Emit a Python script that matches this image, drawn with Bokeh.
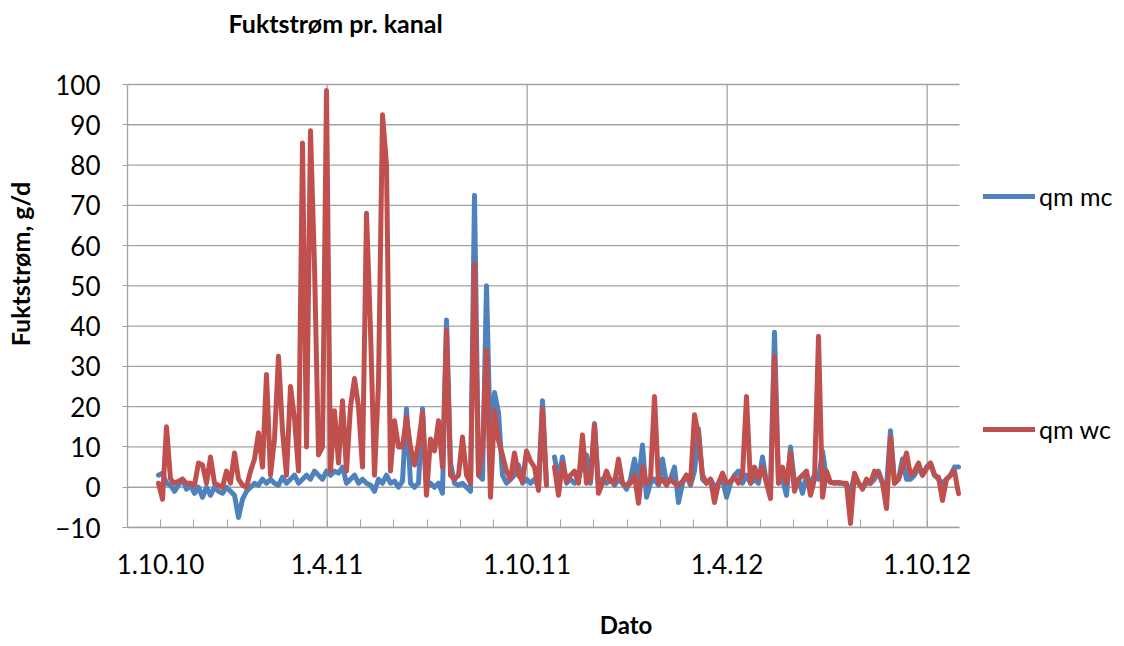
from bokeh.plotting import figure
from bokeh.models import FixedTicker, Legend, LegendItem, Range1d, Label
from bokeh.embed import file_html
from bokeh.resources import INLINE

nan = float("nan")

# Moisture flow per channel, one sample every ~2 days
qm_mc = [
    3, 3.5, 1, 0.5, -1, 0.5, 2, -0.5, 0.5, -1.5,
    0, -2.5, 0, -2, 0, -1, -1.5, 0, -1, -2,
    -7.5, -3, -1, 0, 1, 0.5, 2, 1, 2, 1,
    0.5, 2.5, 1, 2, 3, 1, 2, 3, 2, 4,
    3, 2, 4, 3, 4, 3.5, 5, 1, 2, 3,
    1, 2, 1, 0.5, -1, 2, 1, 3, 1, 1.5,
    0, 1.5, 19.5, 1, 0, 1, 19.5, 0, 1, 0,
    1, -1.5, 41.5, 6, 1, 0.5, 1, 0, -1, 72.5,
    3, 2, 50, 9, 23.5, 18.5, 3, 1, 2, 3,
    5.5, 1, 2, 1, 2, 0, 21.5, 0.5, nan, 7.5,
    2, 7.5, 1, 2, 1, 2, 6, 8, 1, 15.8,
    0, 2, 1, 2, 0.5, 2, 1, -0.5, 2, 7,
    1, 10.5, -2.5, 1, 2, 0.5, 7, 1, 2, 5,
    -3.8, 1, 3, 0.5, 4, 14.5, 2, 1, 2, 0,
    1, 2, -2.5, 1, 3, 4, 1, 3, 1, 2,
    1, 7.5, 1, 0, 38.5, 1, 2, -2, 10, 1,
    2, -1.5, 3, 1, 3, 2, 9, 2, 1.2, 1.2,
    1, 1, 0.5, -1, 3, 1, 0, 1, 1, 2,
    4, 1, 0, 14, 1, 2, 7, 2, 2, 3,
    5, 3, 5, 6, 3, 2, 1, 2, 3, 5,
    5,
]
qm_wc = [
    1, -3, 15, 2, 1, 1.5, 2, 1, 1, 0.5,
    6, 5.5, 1, 7.5, 1, 0.5, 0, 4, 1, 8.5,
    2, 0.5, 0, 4, 7, 13.5, 5, 28, 3, 12,
    32.5, 14, 3, 25, 17, 4, 85.5, 10, 88.5, 55,
    8, 10, 98.5, 4, 19, 6, 21.5, 4, 20, 27,
    20, 5, 68, 39, 3, 26, 92.5, 80, 4, 16.5,
    10, 10, 17.5, 10, 5.5, 11, 18.5, -2, 12, 9,
    16.5, 5, 39, 3, 2, 3, 12.5, 3, 1, 55.5,
    3, 9.5, 34, -2.5, 19, 11.5, 8, 4, 2, 8.5,
    3, 1.5, 9, 6.5, 5, -0.8, 19.5, 0.5, nan, 5,
    -2, 6, 1.5, 3, 4, 1, 13, 1, 2, 15.5,
    -1.5, 1, 4, 1.5, 1, 7, 1, 0.5, 1, 3,
    -4, 5, 1, 2, 22.5, 1, 2, 0.5, 2, 1,
    0.5, 1.5, 3, 1, 18, 13, 3, 1, 2, -3.8,
    1, 3.5, 1, 1.5, 2.5, 1, 3, 22.5, 1, 5,
    2, 5, 1, -2.8, 32.5, 1, 5, 1, 8.5, -1,
    2, 3, 4, -2, 2, 37.5, -2.5, 4, 1.2, 1,
    1.2, 1, 1, -9, 3.5, 1, -0.5, 2, 1, 4,
    3.5, 1, -5.3, 12.5, 1, 2, 5, 8.5, 3, 4,
    6, 3, 4.5, 6, 3, 2.5, -3.3, 2, 3, 4,
    -1.6,
]

tick_labels = ["1.10.10", "1.4.11", "1.10.11", "1.4.12", "1.10.12"]
label_tick_index = [0, 5, 11, 17, 23]   # which of the monthly ticks carry a label
y_ticks = list(range(-10, 101, 10))
series_names = ["qm mc", "qm wc"]
title_text = "Fuktstrøm pr. kanal"
y_title = "Fuktstrøm, g/d"
x_title = "Dato"

FONT = "Lato"
GRID = "#a3a3a3"

# layout (pixels)
W, H = 1124, 646
LEFT, BOTTOM = 127, 119          # frame spans x 127..W, y 0..527
PLOT_RIGHT, PLOT_TOP = 959, 84   # the chart's own plotting box inside the frame

x = [3 * i for i in range(len(qm_mc))]
TICK0, TICK_STEP = 1.5, 25
month_ticks = [TICK0 + TICK_STEP * k for k in range(24)]
label_ticks = [month_ticks[k] for k in label_tick_index]

X_LO, X_HI = -23.25, 600.75
Y_LO, Y_HI = -10, 100
frame_h = H - BOTTOM
ux = (X_HI - X_LO) / (PLOT_RIGHT - LEFT)
uy = (Y_HI - Y_LO) / (frame_h - PLOT_TOP)
x_end = X_LO + (W - LEFT) * ux
y_end = Y_HI + PLOT_TOP * uy

p = figure(width=W, height=H, output_backend="svg", toolbar_location=None,
           x_range=Range1d(X_LO, x_end), y_range=Range1d(Y_LO, y_end),
           min_border_left=LEFT, min_border_right=0, min_border_top=0,
           min_border_bottom=BOTTOM)
p.outline_line_color = None
p.background_fill_color = "white"
p.border_fill_color = "white"
p.xgrid.visible = False
p.ygrid.visible = False

# gridlines limited to the plotting box
p.segment(x0=[X_LO] * len(y_ticks), x1=[X_HI] * len(y_ticks), y0=y_ticks, y1=y_ticks,
          line_color=GRID, line_width=1.3)
p.segment(x0=label_ticks[1:], x1=label_ticks[1:], y0=[Y_LO] * 4, y1=[Y_HI] * 4,
          line_color=GRID, line_width=1.3)

# y axis
p.yaxis.bounds = (Y_LO, Y_HI)
p.yaxis.ticker = FixedTicker(ticks=y_ticks)
p.yaxis.major_tick_out = 5
p.yaxis.major_tick_in = 0
p.yaxis.minor_tick_line_color = None
p.yaxis.axis_line_color = GRID
p.yaxis.axis_line_width = 1.3
p.yaxis.major_tick_line_color = GRID
p.yaxis.major_label_standoff = 22
p.yaxis.major_label_text_font = FONT
p.yaxis.major_label_text_font_size = "26px"
p.yaxis.major_label_text_color = "black"
p.yaxis.axis_label = y_title
p.yaxis.axis_label_standoff = 17
p.yaxis.axis_label_text_font = FONT
p.yaxis.axis_label_text_font_style = "bold"
p.yaxis.axis_label_text_font_size = "25px"
p.yaxis.axis_label_text_color = "black"

# x axis
p.xaxis.bounds = (X_LO, X_HI)
p.xaxis.ticker = FixedTicker(ticks=month_ticks)
overrides = {t: "" for t in month_ticks}
for t, lab in zip(label_ticks, tick_labels):
    overrides[t] = lab
p.xaxis.major_label_overrides = overrides
p.xaxis.major_tick_in = 8
p.xaxis.major_tick_out = 0
p.xaxis.minor_tick_line_color = None
p.xaxis.axis_line_color = GRID
p.xaxis.axis_line_width = 1.3
p.xaxis.major_tick_line_color = GRID
p.xaxis.major_label_standoff = 26
p.xaxis.major_label_text_font = FONT
p.xaxis.major_label_text_font_size = "26px"
p.xaxis.major_label_text_color = "black"
p.xaxis.axis_label = x_title
p.xaxis.axis_label_standoff = 33
p.xaxis.axis_label_text_font = FONT
p.xaxis.axis_label_text_font_style = "bold"
p.xaxis.axis_label_text_font_size = "24px"
p.xaxis.axis_label_text_color = "black"

r_mc = p.line(x, qm_mc, line_color="#4F81BD", line_width=5,
              line_join="round", line_cap="round")
r_wc = p.line(x, qm_wc, line_color="#C0504D", line_width=5,
              line_join="round", line_cap="round")

legend = Legend(items=[LegendItem(label=series_names[0], renderers=[r_mc]),
                       LegendItem(label=series_names[1], renderers=[r_wc])],
                location=(856, 83), orientation="vertical", spacing=203,
                glyph_width=52, glyph_height=24, label_height=24,
                label_standoff=4, padding=0, margin=0, border_line_color=None,
                background_fill_alpha=0, label_text_font=FONT,
                label_text_font_size="25px", label_text_color="black")
p.add_layout(legend)

p.add_layout(Label(x=101, y=frame_h - 22, x_units="screen", y_units="screen",
                   text=title_text, text_font=FONT, text_font_style="bold",
                   text_font_size="25px", text_align="left",
                   text_baseline="alphabetic", text_color="black"))

open("out.html", "w").write(file_html(p, INLINE))
